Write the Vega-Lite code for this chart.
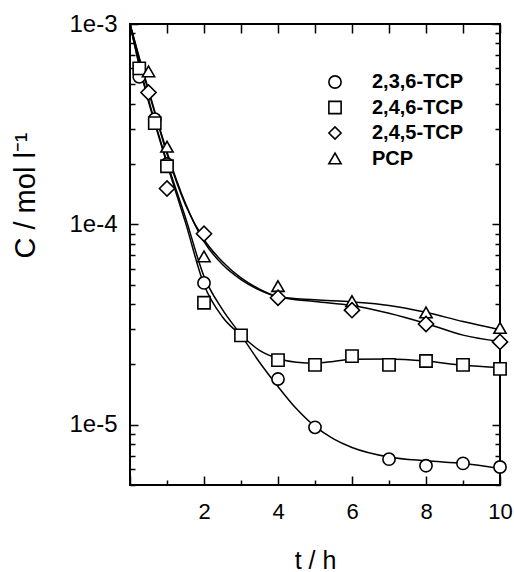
{
  "$schema": "https://vega.github.io/schema/vega-lite/v6.json",
  "width": 370,
  "height": 461,
  "autosize": {"type": "none"},
  "padding": {"left": 130, "top": 24, "right": 14, "bottom": 87},
  "background": "white",
  "config": {
    "font": "Liberation Sans",
    "view": {"stroke": "black", "strokeWidth": 2},
    "axis": {
      "domain": false,
      "grid": false,
      "tickColor": "black",
      "tickWidth": 1.5,
      "labelColor": "black",
      "titleColor": "black",
      "labelFontSize": 22,
      "titleFontSize": 25,
      "titleFontWeight": "normal",
      "labelFont": "Liberation Sans",
      "titleFont": "Liberation Sans",
      "labelFlush": false,
      "labelOverlap": false
    },
    "legend": {
      "symbolStrokeWidth": 1.6,
      "symbolSize": 150
    }
  },
  "datasets": {
    "pts": [
      {"series": "2,3,6-TCP", "t": 0.25, "c": 5.45e-4},
      {"series": "2,3,6-TCP", "t": 0.67, "c": 3.35e-4},
      {"series": "2,3,6-TCP", "t": 1, "c": 2.0e-4},
      {"series": "2,3,6-TCP", "t": 2, "c": 5.1e-5},
      {"series": "2,3,6-TCP", "t": 4, "c": 1.69e-5},
      {"series": "2,3,6-TCP", "t": 5, "c": 9.7e-6},
      {"series": "2,3,6-TCP", "t": 7, "c": 6.73e-6},
      {"series": "2,3,6-TCP", "t": 8, "c": 6.24e-6},
      {"series": "2,3,6-TCP", "t": 9, "c": 6.41e-6},
      {"series": "2,3,6-TCP", "t": 10, "c": 6.15e-6},
      {"series": "2,4,6-TCP", "t": 0.25, "c": 6.0e-4},
      {"series": "2,4,6-TCP", "t": 0.67, "c": 3.2e-4},
      {"series": "2,4,6-TCP", "t": 1, "c": 1.95e-4},
      {"series": "2,4,6-TCP", "t": 2, "c": 4.06e-5},
      {"series": "2,4,6-TCP", "t": 3, "c": 2.79e-5},
      {"series": "2,4,6-TCP", "t": 4, "c": 2.1e-5},
      {"series": "2,4,6-TCP", "t": 5, "c": 1.99e-5},
      {"series": "2,4,6-TCP", "t": 6, "c": 2.2e-5},
      {"series": "2,4,6-TCP", "t": 7, "c": 1.99e-5},
      {"series": "2,4,6-TCP", "t": 8, "c": 2.08e-5},
      {"series": "2,4,6-TCP", "t": 9, "c": 1.99e-5},
      {"series": "2,4,6-TCP", "t": 10, "c": 1.9e-5},
      {"series": "2,4,5-TCP", "t": 0.5, "c": 4.55e-4},
      {"series": "2,4,5-TCP", "t": 1, "c": 1.51e-4},
      {"series": "2,4,5-TCP", "t": 2, "c": 8.98e-5},
      {"series": "2,4,5-TCP", "t": 4, "c": 4.3e-5},
      {"series": "2,4,5-TCP", "t": 6, "c": 3.73e-5},
      {"series": "2,4,5-TCP", "t": 8, "c": 3.18e-5},
      {"series": "2,4,5-TCP", "t": 10, "c": 2.59e-5},
      {"series": "PCP", "t": 0.5, "c": 5.8e-4},
      {"series": "PCP", "t": 1, "c": 2.44e-4},
      {"series": "PCP", "t": 2, "c": 6.92e-5},
      {"series": "PCP", "t": 4, "c": 4.92e-5},
      {"series": "PCP", "t": 6, "c": 4.14e-5},
      {"series": "PCP", "t": 8, "c": 3.63e-5},
      {"series": "PCP", "t": 10, "c": 3.04e-5}
    ],
    "curve": [
      {"series": "2,3,6-TCP", "t": 0, "c": 1.0e-3},
      {"series": "2,3,6-TCP", "t": 0.25, "c": 6.3e-4},
      {"series": "2,3,6-TCP", "t": 0.5, "c": 4.2e-4},
      {"series": "2,3,6-TCP", "t": 0.75, "c": 2.9e-4},
      {"series": "2,3,6-TCP", "t": 1, "c": 2.05e-4},
      {"series": "2,3,6-TCP", "t": 1.5, "c": 1.08e-4},
      {"series": "2,3,6-TCP", "t": 2, "c": 5.5e-5},
      {"series": "2,3,6-TCP", "t": 2.5, "c": 3.75e-5},
      {"series": "2,3,6-TCP", "t": 3, "c": 2.8e-5},
      {"series": "2,3,6-TCP", "t": 3.5, "c": 2.05e-5},
      {"series": "2,3,6-TCP", "t": 4, "c": 1.55e-5},
      {"series": "2,3,6-TCP", "t": 4.5, "c": 1.2e-5},
      {"series": "2,3,6-TCP", "t": 5, "c": 9.8e-6},
      {"series": "2,3,6-TCP", "t": 5.5, "c": 8.5e-6},
      {"series": "2,3,6-TCP", "t": 6, "c": 7.7e-6},
      {"series": "2,3,6-TCP", "t": 7, "c": 6.9e-6},
      {"series": "2,3,6-TCP", "t": 8, "c": 6.6e-6},
      {"series": "2,3,6-TCP", "t": 9, "c": 6.4e-6},
      {"series": "2,3,6-TCP", "t": 10, "c": 6.05e-6},
      {"series": "2,4,6-TCP", "t": 0, "c": 1.0e-3},
      {"series": "2,4,6-TCP", "t": 0.25, "c": 6.2e-4},
      {"series": "2,4,6-TCP", "t": 0.5, "c": 4.1e-4},
      {"series": "2,4,6-TCP", "t": 0.75, "c": 2.85e-4},
      {"series": "2,4,6-TCP", "t": 1, "c": 2.0e-4},
      {"series": "2,4,6-TCP", "t": 1.5, "c": 1.02e-4},
      {"series": "2,4,6-TCP", "t": 2, "c": 5.0e-5},
      {"series": "2,4,6-TCP", "t": 2.5, "c": 3.45e-5},
      {"series": "2,4,6-TCP", "t": 3, "c": 2.8e-5},
      {"series": "2,4,6-TCP", "t": 3.5, "c": 2.35e-5},
      {"series": "2,4,6-TCP", "t": 4, "c": 2.14e-5},
      {"series": "2,4,6-TCP", "t": 4.5, "c": 2.05e-5},
      {"series": "2,4,6-TCP", "t": 5, "c": 2.03e-5},
      {"series": "2,4,6-TCP", "t": 5.5, "c": 2.07e-5},
      {"series": "2,4,6-TCP", "t": 6, "c": 2.12e-5},
      {"series": "2,4,6-TCP", "t": 7, "c": 2.13e-5},
      {"series": "2,4,6-TCP", "t": 8, "c": 2.08e-5},
      {"series": "2,4,6-TCP", "t": 9, "c": 1.98e-5},
      {"series": "2,4,6-TCP", "t": 10, "c": 1.93e-5},
      {"series": "2,4,5-TCP", "t": 0, "c": 1.0e-3},
      {"series": "2,4,5-TCP", "t": 0.25, "c": 6.7e-4},
      {"series": "2,4,5-TCP", "t": 0.5, "c": 4.6e-4},
      {"series": "2,4,5-TCP", "t": 0.75, "c": 3.2e-4},
      {"series": "2,4,5-TCP", "t": 1, "c": 2.25e-4},
      {"series": "2,4,5-TCP", "t": 1.5, "c": 1.25e-4},
      {"series": "2,4,5-TCP", "t": 2, "c": 8.4e-5},
      {"series": "2,4,5-TCP", "t": 2.5, "c": 6.5e-5},
      {"series": "2,4,5-TCP", "t": 3, "c": 5.4e-5},
      {"series": "2,4,5-TCP", "t": 3.5, "c": 4.75e-5},
      {"series": "2,4,5-TCP", "t": 4, "c": 4.35e-5},
      {"series": "2,4,5-TCP", "t": 5, "c": 4.12e-5},
      {"series": "2,4,5-TCP", "t": 6, "c": 3.94e-5},
      {"series": "2,4,5-TCP", "t": 7, "c": 3.6e-5},
      {"series": "2,4,5-TCP", "t": 8, "c": 3.2e-5},
      {"series": "2,4,5-TCP", "t": 9, "c": 2.8e-5},
      {"series": "2,4,5-TCP", "t": 10, "c": 2.6e-5},
      {"series": "PCP", "t": 0, "c": 1.0e-3},
      {"series": "PCP", "t": 0.25, "c": 6.8e-4},
      {"series": "PCP", "t": 0.5, "c": 4.7e-4},
      {"series": "PCP", "t": 0.75, "c": 3.25e-4},
      {"series": "PCP", "t": 1, "c": 2.3e-4},
      {"series": "PCP", "t": 1.5, "c": 1.27e-4},
      {"series": "PCP", "t": 2, "c": 8.2e-5},
      {"series": "PCP", "t": 2.5, "c": 6.3e-5},
      {"series": "PCP", "t": 3, "c": 5.3e-5},
      {"series": "PCP", "t": 3.5, "c": 4.7e-5},
      {"series": "PCP", "t": 4, "c": 4.35e-5},
      {"series": "PCP", "t": 5, "c": 4.2e-5},
      {"series": "PCP", "t": 6, "c": 4.1e-5},
      {"series": "PCP", "t": 7, "c": 3.94e-5},
      {"series": "PCP", "t": 8, "c": 3.64e-5},
      {"series": "PCP", "t": 9, "c": 3.27e-5},
      {"series": "PCP", "t": 10, "c": 2.98e-5}
    ]
  },
  "layer": [
    {
      "data": {"name": "curve"},
      "mark": {"type": "line", "interpolate": "monotone", "color": "black", "strokeWidth": 1.5},
      "encoding": {
        "x": {
          "field": "t", "type": "quantitative",
          "scale": {"domain": [0, 10], "nice": false},
          "axis": {
            "orient": "bottom",
            "values": [0, 1, 2, 3, 4, 5, 6, 7, 8, 9, 10],
            "tickSize": {"condition": {"test": "datum.value % 2 === 0", "value": -9}, "value": -5},
            "labelExpr": "datum.value % 2 === 0 && datum.value > 0 ? datum.label : ''",
            "labelPadding": 25,
            "labelBaseline": "top",
            "title": "t / h",
            "titlePadding": 22
          }
        },
        "y": {
          "field": "c", "type": "quantitative",
          "scale": {"type": "log", "domain": [5e-6, 1e-3], "nice": false},
          "axis": {
            "orient": "left",
            "values": [5e-6, 6e-6, 7e-6, 8e-6, 9e-6, 1e-5, 2e-5, 3e-5, 4e-5, 5e-5, 6e-5, 7e-5, 8e-5, 9e-5, 1e-4, 2e-4, 3e-4, 4e-4, 5e-4, 6e-4, 7e-4, 8e-4, 9e-4, 1e-3],
            "format": ".0e",
            "tickSize": {"condition": {"test": "abs(log(datum.value)/LN10 - round(log(datum.value)/LN10)) < 0.000001", "value": -8}, "value": -5},
            "labelExpr": "abs(log(datum.value)/LN10 - round(log(datum.value)/LN10)) < 0.000001 ? datum.label : ''",
            "labelFontSize": 24,
            "labelPadding": 21,
            "title": "C / mol l\u207b\u00b9",
            "titleFontSize": 29,
            "titleX": -105,
            "titleY": 171,
            "titleAngle": -90,
            "titleAlign": "center",
            "titleBaseline": "middle"
          }
        },
        "detail": {"field": "series", "type": "nominal"}
      }
    },
    {
      "data": {"name": "pts"},
      "transform": [{"filter": "datum.series !== '2,4,5-TCP'"}],
      "mark": {"type": "point", "filled": false, "color": "black", "fill": "white", "fillOpacity": 1, "strokeWidth": 1.6, "opacity": 1, "size": 150},
      "encoding": {
        "x": {
          "field": "t", "type": "quantitative",
          "axis": {
            "orient": "top",
            "values": [0, 1, 2, 3, 4, 5, 6, 7, 8, 9, 10],
            "tickSize": -9,
            "labels": false,
            "title": null
          }
        },
        "y": {
          "field": "c", "type": "quantitative",
          "axis": {
            "orient": "right",
            "values": [5e-6, 6e-6, 7e-6, 8e-6, 9e-6, 1e-5, 2e-5, 3e-5, 4e-5, 5e-5, 6e-5, 7e-5, 8e-5, 9e-5, 1e-4, 2e-4, 3e-4, 4e-4, 5e-4, 6e-4, 7e-4, 8e-4, 9e-4, 1e-3],
            "tickSize": {"condition": {"test": "abs(log(datum.value)/LN10 - round(log(datum.value)/LN10)) < 0.000001", "value": -8}, "value": -5},
            "labels": false,
            "title": null
          }
        },
        "shape": {
          "field": "series", "type": "nominal",
          "scale": {"domain": ["2,3,6-TCP", "2,4,6-TCP", "2,4,5-TCP", "PCP"], "range": ["circle", "square", "diamond", "triangle-up"]},
          "legend": {
            "title": null, "orient": "none", "legendX": 195, "legendY": 48, "padding": 0,
            "labelFontSize": 20, "labelFontWeight": "bold", "labelFont": "Liberation Sans", "labelColor": "black",
            "labelOffset": 27, "rowPadding": 5.5
          }
        }
      }
    },
    {
      "data": {"name": "pts"},
      "transform": [{"filter": "datum.series === '2,4,5-TCP'"}],
      "mark": {"type": "point", "shape": "diamond", "filled": false, "color": "black", "fill": "white", "fillOpacity": 1, "strokeWidth": 1.6, "opacity": 1, "size": 230},
      "encoding": {
        "x": {"field": "t", "type": "quantitative", "axis": null},
        "y": {"field": "c", "type": "quantitative", "axis": null}
      }
    }
  ],
  "resolve": {"axis": {"x": "independent", "y": "independent"}}
}
